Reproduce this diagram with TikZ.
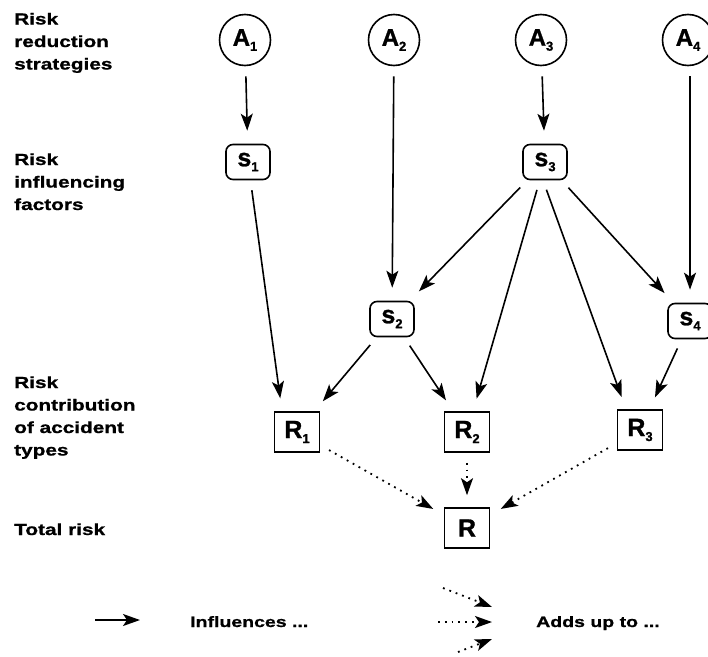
\documentclass[tikz,border=0pt]{standalone}
\usepackage{fontspec}
\setmainfont{Liberation Sans}
\newfontfamily\lblfont{Liberation Sans}[FakeStretch=1.3,FakeBold=1]
\newfontfamily\nodefont{Liberation Sans}[FakeBold=1]
\usetikzlibrary{arrows.meta,calc}
\begin{document}
\begin{tikzpicture}[x=1pt,y=-1pt,
  strat/.style={circle,draw,line width=1.6pt,minimum size=51pt,inner sep=0pt,font=\nodefont\fontsize{24}{24}\selectfont\bfseries},
  fac/.style={rectangle,rounded corners=7pt,draw,line width=1.6pt,minimum width=44pt,minimum height=35pt,inner sep=0pt,font=\nodefont\fontsize{25}{25}\selectfont\bfseries},
  acc/.style={rectangle,draw,line width=1.6pt,minimum width=45pt,minimum height=40pt,inner sep=0pt,font=\nodefont\fontsize{25}{25}\selectfont\bfseries},
  lbl/.style={anchor=base west,align=left,inner sep=0pt,font=\lblfont\fontsize{16}{22.5}\selectfont\bfseries},
  legtxt/.style={anchor=base west,inner sep=0pt,font=\lblfont\fontsize{15}{15}\selectfont\bfseries},
  tip/.style={-{Stealth[length=17pt,width=12pt,inset=4pt]}},
  infl/.style={tip,line width=1.6pt,shorten >=13pt,shorten <=10pt},
  adds/.style={tip,line width=1.8pt,dash pattern=on 1.8pt off 5pt,shorten >=12pt,shorten <=10pt}]
\useasboundingbox (0,0) rectangle (708,656);
\newcommand{\sub}[1]{\raisebox{-5pt}{\fontsize{13}{13}\selectfont #1}}
\node[strat] (A1) at (245,40) {A\sub{1}};
\node[strat] (A2) at (394,40) {A\sub{2}};
\node[strat] (A3) at (541,40) {A\sub{3}};
\node[strat] (A4) at (688,40) {A\sub{4}};
\node[fac] (s1) at (248,162) {s\sub{1}};
\node[fac] (s3) at (545,162) {s\sub{3}};
\node[fac] (s2) at (392,319) {s\sub{2}};
\node[fac] (s4) at (690,321) {s\sub{4}};
\node[acc] (R1) at (297,432) {R\sub{1}};
\node[acc] (R2) at (467,432) {R\sub{2}};
\node[acc] (R3) at (640,430) {R\sub{3}};
\node[acc] (R) at (467,528) {R};
\node[lbl] (L1) at (14,69.5) {Risk\\reduction\\strategies};
\node[lbl] (L2) at (14,210) {Risk\\influencing\\factors};
\node[lbl] (L3) at (14,455.5) {Risk\\contribution\\of accident\\types};
\node[lbl] (L4) at (14,535) {Total risk};
\draw[infl] (A1) -- (s1);
\draw[infl] (A2) -- (s2);
\draw[infl] (A3) -- (s3);
\draw[infl] (A4.south -| s4) -- (s4);
\draw[infl] (s1) -- ($(R1.north)+(-15,0)$);
\draw[infl] (s2) -- (R1);
\draw[infl] (s2) -- (R2);
\draw[infl] (s3) -- (s2);
\draw[infl] (s3) -- (R2);
\draw[infl] ($(s3.south)+(-2,0)$) -- ($(R3.north)+(-14,0)$);
\draw[infl] (s3) -- (s4);
\draw[infl] (s4) -- (R3);
\draw[adds] (R1) -- (R);
\draw[adds] (R2) -- (R);
\draw[adds] (R3) -- (R);
% legend
\coordinate (la) at (95,620);
\coordinate (lb) at (140,620);
\draw[tip,line width=1.6pt] (la) -- (lb);
\node[legtxt] (tinf) at (190,627) {Influences ...};
\coordinate (d1a) at (443,588);
\coordinate (d1b) at (492,607);
\coordinate (d2a) at (438,622);
\coordinate (d2b) at (492,622);
\coordinate (d3a) at (458,652);
\coordinate (d3b) at (492,639);
\draw[tip,line width=1.8pt,dash pattern=on 1.8pt off 5pt] (d1a) -- (d1b);
\draw[tip,line width=1.8pt,dash pattern=on 1.8pt off 5pt] (d2a) -- (d2b);
\draw[tip,line width=1.8pt,dash pattern=on 1.8pt off 5pt] (d3a) -- (d3b);
\node[legtxt] (tadd) at (536,627) {Adds up to ...};
\end{tikzpicture}
\end{document}
